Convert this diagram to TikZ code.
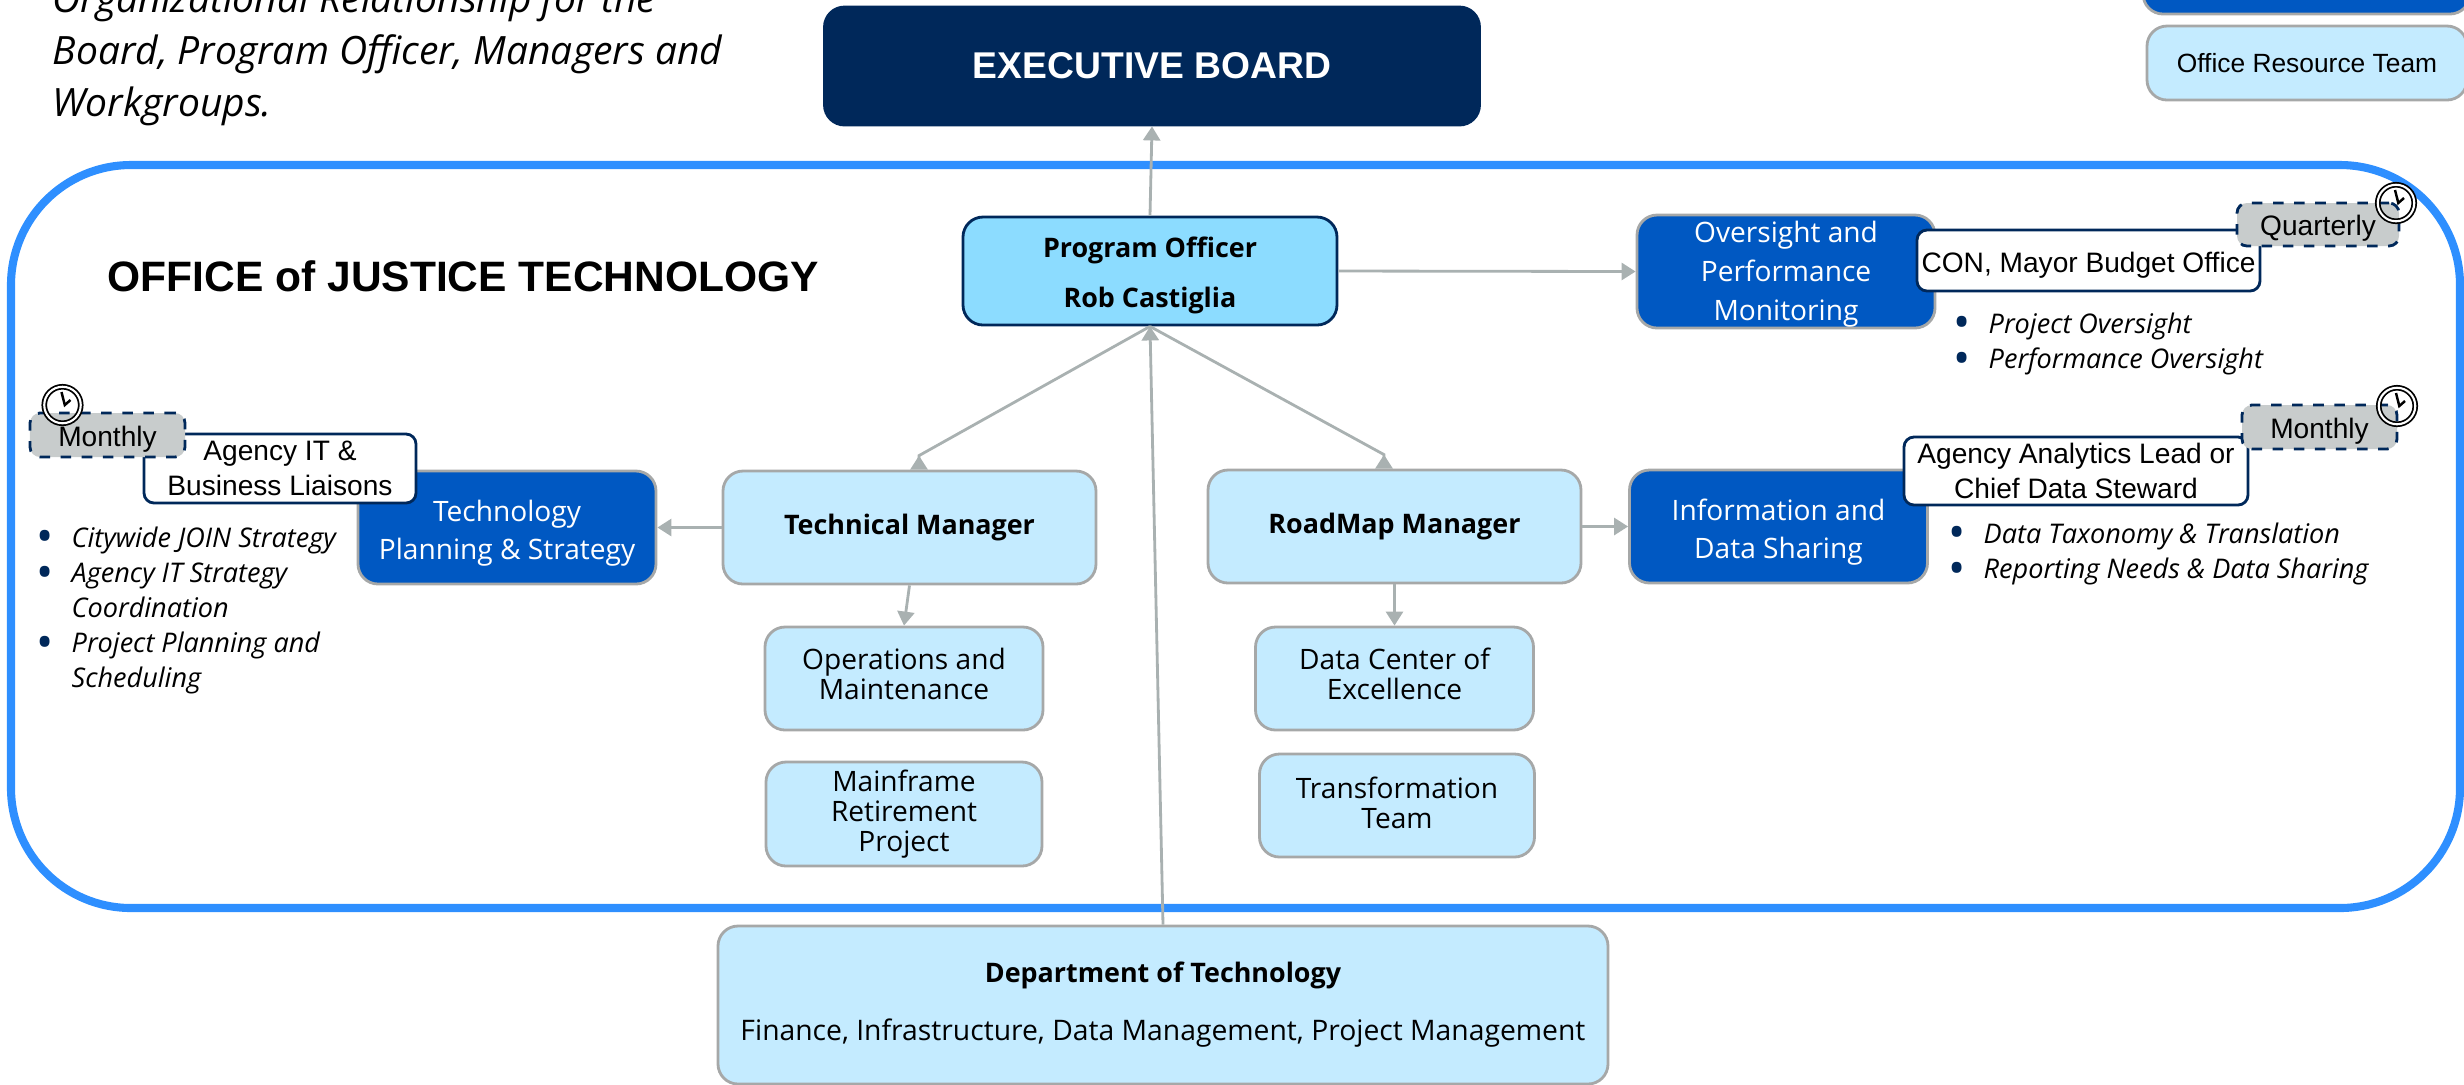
\documentclass[tikz,border=0pt]{standalone}
\usepackage{fontspec}
\setmainfont{Open Sans}
\newfontfamily\arialfont{Liberation Sans}
\usetikzlibrary{arrows.meta,positioning}
\definecolor{navy}{HTML}{00285A}
\definecolor{deepblue}{HTML}{0058C2}
\definecolor{paleblue}{HTML}{C4EBFF}
\definecolor{skyblue}{HTML}{8CDCFF}
\definecolor{framecol}{HTML}{2E8FFF}
\definecolor{linkgrey}{HTML}{A9B1B1}
\definecolor{edgegrey}{HTML}{A6A8A8}
\definecolor{tickgrey}{HTML}{C8CCCC}
\newcommand{\bul}{\makebox[0.35cm][l]{\raisebox{-1.6pt}[0pt][0pt]{\textcolor{navy}{\fontsize{13}{10}\selectfont\upshape\textbullet}}}}
\newcommand{\tall}[1]{\rule{0pt}{#1}}
\newcommand{\deep}[1]{\rule[-#1]{0pt}{#1}}
\tikzset{
  box/.style={draw=edgegrey,line width=0.8pt,rounded corners=0.2cm,align=center,inner sep=0pt},
  teambox/.style={box,fill=paleblue,font=\fontsize{8}{8.5}\selectfont},
  mgrbox/.style={teambox,minimum width=3.73cm,minimum height=1.13cm,font=\fontsize{7.65}{12}\selectfont\bfseries},
  funcbox/.style={box,fill=deepblue,text=white,minimum width=2.98cm,minimum height=1.13cm,font=\fontsize{8}{11}\selectfont},
  rolebox/.style={draw=navy,line width=0.8pt,fill=white,rounded corners=0.1cm,align=center,inner sep=0pt,font=\arialfont\fontsize{8}{10}\selectfont},
  tickbox/.style={draw=navy,line width=0.8pt,dashed,fill=tickgrey,rounded corners=0.1cm,inner sep=0pt,text height=0.22cm,text depth=0pt,font=\arialfont\fontsize{8}{10}\selectfont},
  clock/.style={circle,draw=black,line width=0.5pt,double=white,double distance=0.6pt,minimum size=0.365cm,inner sep=0pt},
  notes/.style={anchor=north west,align=left,inner sep=0pt,font=\fontsize{7.7}{10}\selectfont\itshape},
  boxtip/.style={-{Triangle[reversed,length=0.14cm,width=0.17cm]},linkgrey,line width=0.8pt},
}
\begin{document}
\begin{tikzpicture}[>={Triangle[length=0.14cm,width=0.17cm]},on grid]
    \useasboundingbox (0,0) rectangle (24.64,-10.84);
    \draw[framecol,line width=2.3pt,rounded corners=1.2cm] (0.11,-1.65) rectangle (24.6,-9.08);

    \node[anchor=north west,align=left,inner sep=0pt,font=\fontsize{11.1}{14.8}\selectfont\itshape] (intro) at (0.52,0.18)
      {Organizational Relationship for the\\Board, Program Officer, Managers and\\Workgroups.};
    \node[anchor=west,inner sep=0pt,font=\arialfont\fontsize{12.1}{15}\selectfont\bfseries] (office) at (1.07,-2.76) {OFFICE of JUSTICE TECHNOLOGY};

    \node[box,draw=navy,fill=skyblue,minimum width=3.74cm,minimum height=1.08cm,font=\fontsize{7.65}{14.3}\selectfont\bfseries] (officer) at (11.5,-2.71) {\tall{8.2pt}Program Officer\\Rob Castiglia};
    \node[box,draw=navy,fill=navy,text=white,minimum width=6.55cm,minimum height=1.18cm,font=\arialfont\fontsize{10.6}{14}\selectfont\bfseries] (board) [above right=2.05cm and 0.02cm of officer] {EXECUTIVE BOARD};
    \node[mgrbox] (techmgr) [below left=2.565cm and 2.405cm of officer] {Technical Manager};
    \node[mgrbox] (roadmgr) [below right=2.555cm and 2.445cm of officer] {RoadMap Manager};
    \node[teambox,minimum width=2.78cm,minimum height=1.03cm] (ops) [below left=1.51cm and 0.055cm of techmgr] {Operations and\\Maintenance\deep{2.6pt}};
    \node[teambox,minimum width=2.76cm,minimum height=1.04cm] (mainframe) [below=1.355cm of ops] {Mainframe\\Retirement\\Project};
    \node[teambox,minimum width=2.78cm,minimum height=1.03cm] (datacenter) [below=1.52cm of roadmgr] {Data Center of\\Excellence\deep{2.6pt}};
    \node[teambox,minimum width=2.75cm,minimum height=1.03cm] (transform) [below right=1.27cm and 0.025cm of datacenter] {Transformation\\Team\deep{1.8pt}};
    \node[teambox,minimum width=8.9cm,minimum height=1.58cm,font=\fontsize{8.05}{16.5}\selectfont] (dot) at (11.63,-10.05) {{\fontsize{7.65}{16.5}\selectfont\bfseries Department of Technology}\\Finance, Infrastructure, Data Management, Project Management};

    \node[funcbox] (planning) [left=4.025cm of techmgr] {\tall{9.4pt}Technology\\Planning \& Strategy};
    \node[funcbox] (sharing) [right=3.84cm of roadmgr] {\tall{9.4pt}Information and\\Data Sharing};
    \node[funcbox] (oversight) at (17.86,-2.715) {\tall{7.6pt}Oversight and\\Performance\\Monitoring};

    \node[rolebox,minimum width=2.72cm,minimum height=0.69cm] (liaison) at (2.8,-4.685) {Agency IT \&\\Business Liaisons};
    \node[rolebox,minimum width=3.44cm,minimum height=0.68cm] (analytics) at (20.76,-4.71) {Agency Analytics Lead or\\Chief Data Steward};
    \node[rolebox,minimum width=3.43cm,minimum height=0.61cm] (conbox) at (20.885,-2.605) {\tall{8.3pt}CON, Mayor Budget Office};

    \node[tickbox,minimum width=1.62cm,minimum height=0.43cm] (quarterly) at (23.18,-2.245) {Quarterly};
    \node[tickbox,minimum width=1.55cm,minimum height=0.44cm] (monthlyleft) at (1.075,-4.35) {Monthly};
    \node[tickbox,minimum width=1.55cm,minimum height=0.44cm] (monthlyright) at (23.195,-4.27) {Monthly};

    \foreach \name/\pos in {clockone/{23.96,-2.03},clocktwo/{0.625,-4.05},clockthree/{23.97,-4.06}} {
      \node[clock] (\name) at (\pos) {};
      \draw[line width=0.7pt] ([shift={(-0.01,0.13)}]\name.center) -- ([shift={(0.023,0)}]\name.center) -- ([shift={(0.08,0.05)}]\name.center);
    }

    \node[notes] (planningnotes) at (0.36,-5.26) {\bul Citywide JOIN Strategy\\\bul Agency IT Strategy\\\hspace{0.35cm}Coordination\\\bul Project Planning and\\\hspace{0.35cm}Scheduling};
    \node[notes] (sharingnotes) at (19.48,-5.22) {\bul Data Taxonomy \& Translation\\\bul Reporting Needs \& Data Sharing};
    \node[notes] (oversightnotes) at (19.53,-3.12) {\bul Project Oversight\\\bul Performance Oversight};

    \node[box,fill=deepblue,minimum width=3.27cm,minimum height=0.6cm] (legendtop) at (23.065,0.16) {};
    \node[box,fill=paleblue,minimum width=3.2cm,minimum height=0.74cm,font=\arialfont\fontsize{7.5}{10}\selectfont] (legendteam) at (23.07,-0.63) {Office Resource Team};

    \path[->,linkgrey,line width=0.8pt]
    (officer.north) edge (board.south)
    (officer.east) edge (oversight.west)
    (dot.north) edge (officer.south)
    (techmgr.west) edge (planning.east)
    (roadmgr.east) edge (sharing.west)
    (techmgr.south) edge (ops.north)
    (roadmgr.south) edge (datacenter.north)
    ;
    \draw[boxtip] (officer.south) -- ([shift={(0.095,0.14)}]techmgr.north) -- ([xshift=0.095cm]techmgr.north);
    \draw[boxtip] (officer.south) -- ([shift={(-0.105,0.14)}]roadmgr.north) -- ([xshift=-0.105cm]roadmgr.north);
  \end{tikzpicture}
\end{document}
